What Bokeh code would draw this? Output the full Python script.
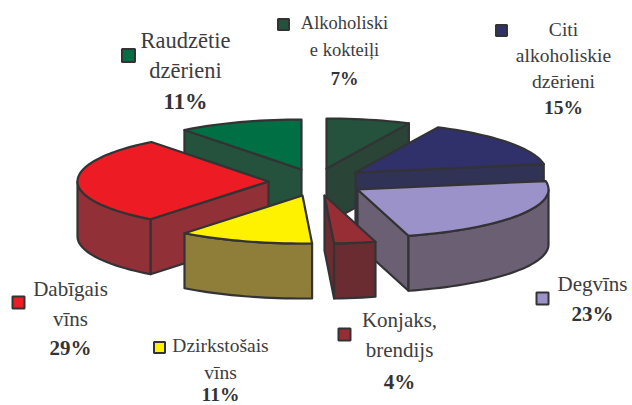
import math
from bokeh.plotting import figure
from bokeh.embed import file_html
from bokeh.resources import INLINE
from bokeh.core.properties import value

# data
categories = ["Alkoholiskie kokteiļi", "Citi alkoholiskie dzērieni", "Degvīns", "Konjaks, brendijs",
              "Dzirkstošais vīns", "Dabīgais vīns", "Raudzētie dzērieni"]
shares = [7.1, 15.2, 23.4, 3.5, 11.4, 28.9, 10.5]
pct_labels = ["7%", "15%", "23%", "4%", "11%", "29%", "11%"]
top_colors = ["#24523d", "#30316a", "#9a92c8", "#972d35", "#fff200", "#ed1c24", "#006f44"]
side_colors = ["#2b4438", "#303256", "#6b5f73", "#6a2c31", "#8f7d3a", "#923037", "#24523d"]
label_lines = [["Alkoholiski", "e kokteiļi"], ["Citi", "alkoholiskie", "dzērieni"], ["Degvīns"],
               ["Konjaks,", "brendijs"], ["Dzirkstošais", "vīns"], ["Dabīgais", "vīns"], ["Raudzētie", "dzērieni"]]

# layout (pixel space of the page image)
apex = [(326, 168), (355, 172), (357, 189), (324, 195), (302, 195), (268, 181), (301, 169)]
RX, RY_BACK, RY_FRONT, DEPTH = 191, 50, 48, 55
draw_order = [0, 6, 1, 2, 5, 3, 4]
key_pos = [(283, 24, 11), (501, 30, 11), (542, 298, 12), (344, 334, 12), (159, 347, 11), (18, 302, 12), (128, 55, 13)]
label_pos = [(344, [22, 49, 78], 18.5), (563, [29, 55, 81, 107], 19.5), (592, [283, 313], 21), (399, [319, 349, 381], 21),
             (220, [345, 372, 394], 19.5), (70, [288, 318, 347], 21), (185, [40, 70, 101], 22.5)]
INK = "#333336"

p = figure(width=632, height=405, x_range=(0, 632), y_range=(405, 0), toolbar_location=None,
           output_backend="svg", min_border=0, outline_line_color=None)
p.axis.visible = False
p.grid.visible = False

def pt(c, t, dy=0):
    r = math.radians(t)
    cs = math.cos(r)
    return c[0] + RX * math.sin(r), c[1] - (RY_BACK if cs > 0 else RY_FRONT) * cs + dy

def arc(c, a, b, dy=0):
    n = max(2, int(abs(b - a) / 2) + 1)
    return [pt(c, a + (b - a) * i / (n - 1), dy) for i in range(n)]

def draw(poly, col):
    p.patch([q[0] for q in poly], [q[1] for q in poly], fill_color=col, line_color=INK,
            line_width=2.2, line_join="round")

edges = [0]
for s in shares:
    edges.append(edges[-1] + s * 3.6)

for i in draw_order:
    t0, t1, c = edges[i], edges[i + 1], apex[i]
    low = (c[0], c[1] + DEPTH)
    if math.sin(math.radians(t0)) < 0:
        e, f = pt(c, t0), pt(c, t0, DEPTH)
        draw([c, e, f, low], side_colors[i])
    if math.sin(math.radians(t1)) > 0:
        e, f = pt(c, t1), pt(c, t1, DEPTH)
        draw([c, e, f, low], side_colors[i])
    a, b = max(t0, 90), min(t1, 270)
    if b > a:
        draw(arc(c, a, b) + arc(c, b, a, DEPTH), side_colors[i])
    draw([c] + arc(c, t0, t1), top_colors[i])

for i, (x, y, s) in enumerate(key_pos):
    p.rect([x], [y], width=s, height=s, fill_color=top_colors[i], line_color=INK, line_width=2)

for i, (x, ys, fs) in enumerate(label_pos):
    lines = label_lines[i]
    p.text([x] * len(lines), ys[:len(lines)], text=lines, text_align="center", text_baseline="middle",
           text_font=value("Liberation Serif"), text_font_size=f"{fs}px", text_color="#3c3c3e")
    p.text([x], [ys[-1]], text=[pct_labels[i]], text_align="center", text_baseline="middle",
           text_font=value("Liberation Serif"), text_font_style="bold", text_font_size=f"{fs}px",
           text_color="#333336")

open("out.html", "w").write(file_html(p, INLINE))
